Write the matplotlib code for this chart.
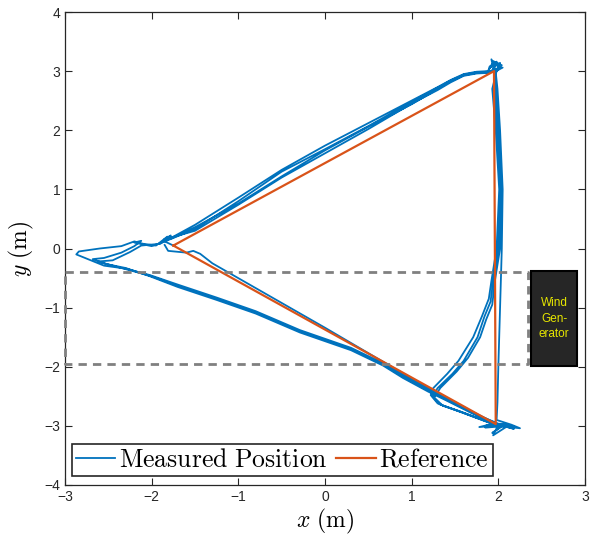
import matplotlib
matplotlib.use("Agg")
import matplotlib.pyplot as plt
from matplotlib.patches import Rectangle
import numpy as np

plt.rcParams['mathtext.fontset'] = 'cm'
plt.rcParams['font.family'] = ['Liberation Sans', 'DejaVu Sans']

# Reference triangle
ref_x = [-1.75, 1.95, 1.97, -1.75]
ref_y = [0.05, 3.00, -2.97, 0.05]

# Measured position, lap by lap
lap1_x = [-1.75, -1.85, -1.5, -1.0, -0.5, 0.0, 0.5, 1.0, 1.3, 1.45, 1.6, 1.75, 1.88,
          1.93, 1.90, 1.98, 2.00, 1.97,
          1.99, 2.02, 2.05, 2.04, 2.02, 2.00, 1.99, 1.98,
          2.15, 2.25, 2.00, 1.85, 1.98,
          1.70, 1.40, 1.20, 0.90, 0.67, 0.30, -0.29, -0.80, -1.25, -1.70, -2.02, -2.30,
          -2.55, -2.68, -2.55, -2.35, -2.20, -2.12, -2.20, -2.00, -1.88]
lap1_y = [0.05, 0.12, 0.40, 0.86, 1.33, 1.74, 2.12, 2.50, 2.73, 2.85, 2.95, 2.99, 3.00,
          3.12, 3.05, 3.16, 3.05, 2.98,
          2.70, 2.00, 1.00, 0.00, -1.00, -2.00, -2.60, -2.90,
          -2.98, -3.04, -3.00, -3.00, -2.95,
          -2.78, -2.56, -2.41, -2.17, -1.96, -1.70, -1.40, -1.08, -0.85, -0.63, -0.46, -0.35,
          -0.25, -0.18, -0.16, -0.07, 0.04, 0.13, 0.10, 0.04, 0.10]

lap2_x = [-1.5, -1.0, -0.5, 0.0, 0.5, 1.0, 1.3, 1.45, 1.6, 1.75, 1.88,
          1.95, 1.92, 1.96, 2.02, 1.98,
          1.93, 1.97, 2.01, 1.98, 1.92, 1.89, 1.81, 1.71, 1.54, 1.41, 1.25,
          1.22, 1.30, 1.50, 1.72, 1.90, 2.00, 2.20, 1.95, 1.78, 1.95,
          1.70, 1.40, 1.21, 0.90, 0.67, 0.30, -0.29, -0.80, -1.25, -1.70, -2.02, -2.30,
          -2.55, -2.75, -2.87, -2.84, -2.60, -2.35, -2.20, -2.10, -1.95, -1.82, -1.77]
lap2_y = [0.33, 0.80, 1.30, 1.68, 2.07, 2.48, 2.72, 2.84, 2.94, 2.98, 2.99,
          3.00, 3.20, 3.08, 3.14, 3.00,
          2.70, 2.00, 1.00, 0.00, -0.55, -0.85, -1.15, -1.50, -1.90, -2.12, -2.36,
          -2.48, -2.62, -2.73, -2.85, -2.95, -2.97, -3.02, -3.00, -3.02, -2.96,
          -2.77, -2.55, -2.40, -2.15, -1.94, -1.68, -1.38, -1.06, -0.83, -0.61, -0.45, -0.34,
          -0.29, -0.17, -0.10, -0.05, 0.00, 0.04, 0.12, 0.08, 0.05, 0.20, 0.17]

lap3_x = [-1.5, -1.0, -0.5, 0.0, 0.5, 1.0, 1.3, 1.45, 1.6, 1.75, 1.88,
          1.96, 1.94, 2.04, 1.99, 1.95,
          1.95, 1.99, 2.03, 2.00, 1.94, 1.91, 1.84, 1.76, 1.60, 1.47, 1.30,
          1.24, 1.33, 1.55, 1.75, 1.92, 2.05, 1.93, 2.08, 1.96, 2.18, 1.97,
          1.70, 1.40, 1.19, 0.90, 0.67, 0.30, -0.29, -0.80, -1.25, -1.70, -2.02, -2.30,
          -2.50, -2.62, -2.45, -2.25, -2.12, -1.90, -1.78, -1.86]
lap3_y = [0.36, 0.76, 1.22, 1.66, 2.06, 2.44, 2.70, 2.83, 2.93, 2.97, 2.98,
          3.04, 3.17, 3.10, 3.02, 2.98,
          2.70, 2.00, 1.00, 0.00, -0.55, -0.90, -1.15, -1.50, -1.90, -2.12, -2.36,
          -2.50, -2.64, -2.75, -2.86, -2.95, -2.99, -3.12, -2.97, -2.96, -3.05, -2.97,
          -2.79, -2.57, -2.42, -2.19, -1.98, -1.72, -1.42, -1.10, -0.87, -0.65, -0.47, -0.33,
          -0.27, -0.22, -0.20, -0.06, 0.05, 0.08, 0.22, 0.15]

lap4_x = [-1.5, -1.0, -0.5, 0.0, 0.5, 1.0, 1.3, 1.45, 1.6, 1.75, 1.88,
          1.90, 1.97, 1.94, 2.05, 1.96,
          1.97, 2.00, 2.04, 2.02, 1.96, 1.93, 1.86, 1.79, 1.65, 1.52, 1.33,
          1.26, 1.36, 1.58, 1.78, 1.93, 2.10, 1.85, 2.00, 1.94, 2.12, 1.97,
          1.70, 1.50, 1.00, 0.50, 0.00, -0.50, -1.00, -1.30, -1.44, -1.52, -1.60, -1.81, -1.85]
lap4_y = [0.30, 0.74, 1.20, 1.61, 2.02, 2.45, 2.68, 2.81, 2.92, 2.96, 2.97,
          3.08, 3.13, 3.03, 3.06, 2.99,
          2.70, 2.00, 1.00, 0.00, -0.55, -0.95, -1.20, -1.50, -1.85, -2.08, -2.36,
          -2.52, -2.66, -2.77, -2.88, -2.96, -3.00, -3.03, -2.98, -3.16, -2.99, -2.96,
          -2.76, -2.60, -2.20, -1.77, -1.34, -0.92, -0.50, -0.25, -0.09, -0.04, -0.07, -0.04, 0.06]

# Obstacle / wind zone
zone_y = [-1.95, -0.40]
zone_x = [-3.0, 2.34]
gen_x = [2.375, 2.91]
gen_y = [-1.99, -0.38]

blue = '#0072BD'
orange = '#D95319'

fig = plt.figure(figsize=(5.92, 5.42), dpi=100)
ax = fig.add_axes([65/592, 57/542, 520/592, 473/542])

meas_x = lap1_x + lap2_x + lap3_x + lap4_x
meas_y = lap1_y + lap2_y + lap3_y + lap4_y
ax.plot(meas_x, meas_y, color=blue, lw=1.3, label=r'$\mathrm{Measured\ Position}$',
        solid_joinstyle='round')
ax.plot(ref_x, ref_y, color=orange, lw=1.6, label=r'$\mathrm{Reference}$')

# dashed zone
ax.plot([zone_x[0], zone_x[1], zone_x[1], zone_x[0], zone_x[0]],
        [zone_y[1], zone_y[1], zone_y[0], zone_y[0], zone_y[1]],
        color='#808080', lw=2.0, ls=(0, (3.0, 2.2)), clip_on=False, zorder=3)

ax.add_patch(Rectangle((gen_x[0], gen_y[0]), gen_x[1]-gen_x[0], gen_y[1]-gen_y[0],
                       facecolor='#262626', edgecolor='black', lw=1.5, zorder=4))
ax.text((gen_x[0]+gen_x[1])/2, (gen_y[0]+gen_y[1])/2, 'Wind\nGen-\nerator',
        color='#E6E600', fontsize=8.5, ha='center', va='center', linespacing=1.35,
        zorder=5)

ax.set_xlim(-3, 3)
ax.set_ylim(-4, 4)
ax.set_xticks(np.arange(-3, 4, 1))
ax.set_yticks(np.arange(-4, 5, 1))
ax.tick_params(direction='in', top=True, right=True, length=5, width=0.8,
               labelsize=10, colors='#262626')
for s in ax.spines.values():
    s.set_linewidth(0.9)
    s.set_color('#262626')

ax.set_xlabel(r'$x\ (\mathrm{m})$', fontsize=17, labelpad=2)
ax.set_ylabel(r'$y\ (\mathrm{m})$', fontsize=17, labelpad=6)

leg = ax.legend(loc='lower left', bbox_to_anchor=(0.013, 0.02), ncol=2, fontsize=18.5,
                frameon=True, fancybox=False, edgecolor='#262626', framealpha=1,
                handlelength=1.55, handletextpad=0.15, columnspacing=0.3,
                borderpad=0.15, borderaxespad=0)
leg.get_frame().set_linewidth(1.2)

fig.savefig('out.png', dpi=100)
